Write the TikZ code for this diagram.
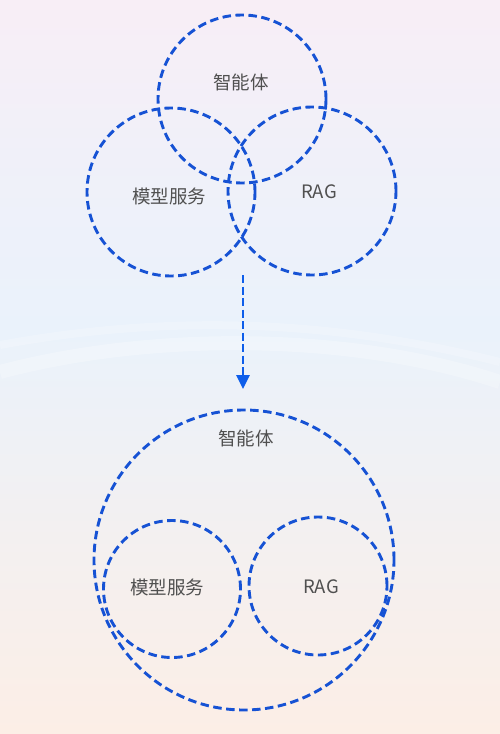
\documentclass[tikz,border=0pt]{standalone}
\usepackage{fontspec}
\newfontfamily\cjkfont{Noto Sans CJK SC}
\usetikzlibrary{arrows.meta}
\definecolor{dashblue}{HTML}{1652D4}
\definecolor{arrowblue}{HTML}{0E5EEA}
\definecolor{labelgray}{HTML}{505050}
\definecolor{bgtop}{HTML}{F8EEF6}
\definecolor{bgmid}{HTML}{EAF2FB}
\definecolor{bgbot}{HTML}{FCEEE6}
\tikzset{
  dashcircle/.style={circle, draw=dashblue, line width=2.9pt, dash pattern=on 8.5pt off 4.5pt, inner sep=0pt, outer sep=0pt},
  lbl/.style={text=labelgray, font=\cjkfont\fontsize{18.5}{20}\selectfont, inner sep=0pt},
  flowarrow/.style={draw=arrowblue, line width=2.8pt, dash pattern=on 8pt off 3.5pt, -{Triangle[width=13pt,length=14pt]}}
}
\begin{document}
\begin{tikzpicture}[x=1pt,y=-1pt]
\useasboundingbox (0,0) rectangle (500,734);
\shade[top color=bgtop, bottom color=bgmid, middle color=bgmid!60!bgtop] (0,0) rectangle (500,330);
\shade[top color=bgmid, bottom color=bgbot] (0,330) rectangle (500,734);
% faint waves
\draw[white, opacity=0.25, line width=14pt] (0,372) .. controls (150,332) and (350,332) .. (500,382);
\draw[white, opacity=0.2, line width=8pt] (0,345) .. controls (180,312) and (340,322) .. (500,362);
% top group
\node[dashcircle, minimum size=168pt] (agentA) at (242,99) {};
\node[dashcircle, minimum size=168pt] (modelA) at (171,192) {};
\node[dashcircle, minimum size=168pt] (ragA) at (312,191) {};
\node[lbl] (agentAt) at (241,82) {智能体};
\node[lbl] (modelAt) at (169,196) {模型服务};
\node[lbl] (ragAt) at (319,192) {RAG};
% arrow
\coordinate (arrS) at (243,275);
\coordinate (arrE) at (243,389);
\draw[flowarrow] (arrS) -- (arrE);
% bottom group
\node[dashcircle, minimum size=300pt] (agentB) at (244,560) {};
\node[dashcircle, minimum size=137pt] (modelB) at (172,589) {};
\node[dashcircle, minimum size=138pt] (ragB) at (318,586) {};
\node[lbl] (agentBt) at (246,438) {智能体};
\node[lbl] (modelBt) at (167,587) {模型服务};
\node[lbl] (ragBt) at (321,587) {RAG};
\end{tikzpicture}
\end{document}
